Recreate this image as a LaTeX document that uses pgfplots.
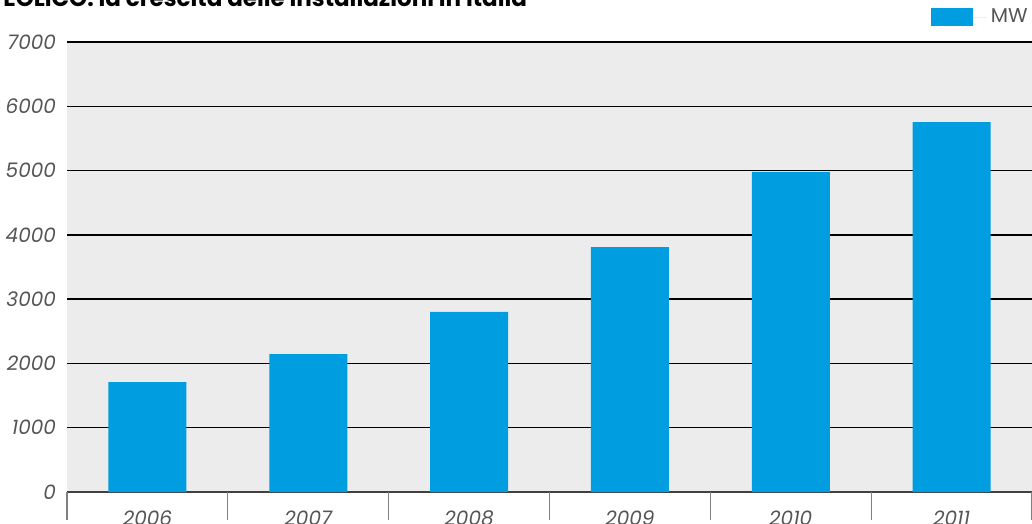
\documentclass[border=0pt]{standalone}
\usepackage{pgfplots}
\pgfplotsset{compat=1.18}
\usepackage{fontspec}
\setmainfont{Poppins}
\definecolor{barblue}{RGB}{0,157,224}
\definecolor{bggray}{RGB}{235,236,235}
\definecolor{txtgray}{RGB}{85,85,85}
\begin{document}
\begin{tikzpicture}
\useasboundingbox (0,0) rectangle (516pt,262pt);
\node[anchor=base west, inner sep=0pt, font=\fontsize{11.5}{13}\selectfont\bfseries] at (1.5pt,258.5pt) {EOLICO: la crescita delle installazioni in Italia};
\begin{axis}[
  at={(33.5pt,16pt)}, anchor=south west,
  scale only axis, width=482.5pt, height=225pt,
  xmin=-0.5, xmax=5.5, ymin=0, ymax=7000,
  ytick={0,1000,...,7000},
  xtick={0,...,5},
  xticklabels={2006,2007,2008,2009,2010,2011},
  /pgf/number format/assume math mode=true,
  /pgf/number format/set thousands separator={},
  axis background/.style={fill=bggray},
  axis x line*=bottom,
  axis y line*=left,
  y axis line style={draw=none},
  x axis line style={draw=black!75, line width=0.8pt, -},
  ymajorgrids,
  grid style={black, line width=0.7pt},
  major tick length=0pt,
  ytick style={draw=none},
  yticklabel style={font=\fontsize{10}{12}\selectfont\itshape, text=txtgray, anchor=east, xshift=-2pt},
  xticklabel style={font=\fontsize{10}{12}\selectfont\itshape, text=txtgray, anchor=north, yshift=-6pt},
  extra x ticks={-0.5,0.5,1.5,2.5,3.5,4.5,5.5},
  extra x tick labels={},
  extra x tick style={major tick length=14pt, tick align=outside, tick style={draw=gray, line width=0.6pt}, grid=none},
  ybar, bar width=39pt,
  legend style={at={(1,1)}, anchor=south east, draw=none, fill=none, xshift=0pt, yshift=6pt, font=\fontsize{10}{12}\selectfont\color{txtgray}, inner sep=0pt},
  legend image code/.code={\fill[barblue] (0pt,-4.5pt) rectangle (21pt,4.5pt); \path (0pt,0pt) -- (28pt,0pt);},
]
\addplot[fill=barblue, draw=none] coordinates {(0,1710) (1,2146) (2,2800) (3,3810) (4,4980) (5,5752)};
\addlegendentry{MW}
\end{axis}
\end{tikzpicture}
\end{document}
